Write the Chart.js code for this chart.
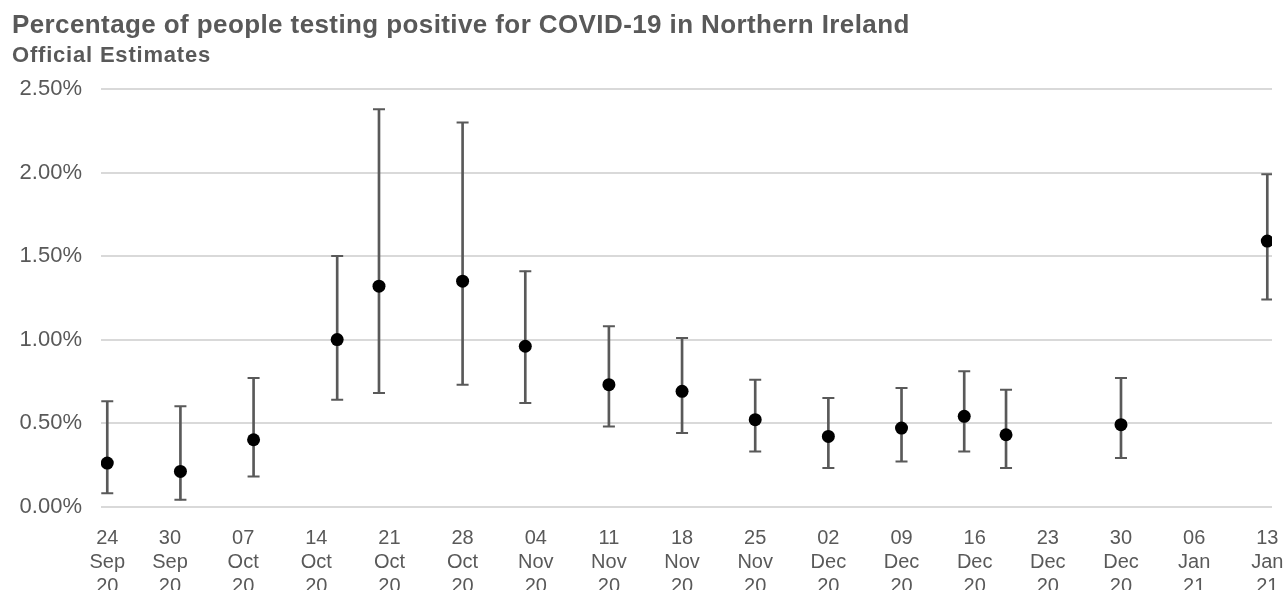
<!DOCTYPE html>
<html>
<head>
<meta charset="utf-8">
<script src="https://cdn.jsdelivr.net/npm/chart.js@4/dist/chart.umd.min.js"></script>
<style>
  html, body { margin: 0; padding: 0; background: #ffffff; }
  #wrap { width: 1288px; height: 590px; position: relative; }
</style>
</head>
<body>
<div id="wrap"><canvas id="c" width="1288" height="590"></canvas></div>
<script>
// ---- Data (days counted from 24 Sep 2020) ----
const pointDays = [0, 7, 14, 22, 26, 34, 40, 48, 55, 62, 69, 76, 82, 86, 97, 111];
const central   = [0.26, 0.21, 0.40, 1.00, 1.32, 1.35, 0.96, 0.73, 0.69, 0.52, 0.42, 0.47, 0.54, 0.43, 0.49, 1.59];
const lower     = [0.08, 0.04, 0.18, 0.64, 0.68, 0.73, 0.62, 0.48, 0.44, 0.33, 0.23, 0.27, 0.33, 0.23, 0.29, 1.24];
const upper     = [0.63, 0.60, 0.77, 1.50, 2.38, 2.30, 1.41, 1.08, 1.01, 0.76, 0.65, 0.71, 0.81, 0.70, 0.77, 1.99];

const tickDays   = [0, 6, 13, 20, 27, 34, 41, 48, 55, 62, 69, 76, 83, 90, 97, 104, 111];
const tickLabels = [
  ['24','Sep','20'], ['30','Sep','20'], ['07','Oct','20'], ['14','Oct','20'],
  ['21','Oct','20'], ['28','Oct','20'], ['04','Nov','20'], ['11','Nov','20'],
  ['18','Nov','20'], ['25','Nov','20'], ['02','Dec','20'], ['09','Dec','20'],
  ['16','Dec','20'], ['23','Dec','20'], ['30','Dec','20'], ['06','Jan','21'],
  ['13','Jan','21']
];
const yTicks = [0, 0.5, 1.0, 1.5, 2.0, 2.5];

const titleText = 'Percentage of people testing positive for COVID-19 in Northern Ireland';
const subtitleText = 'Official Estimates';

// ---- Build datasets ----
const FONT = "'Liberation Sans', Arial, sans-serif";
const GREY = '#595959';

const barData = pointDays.map((d, i) => ({ x: d, y: [lower[i], upper[i]] }));
const capData = pointDays.map((d, i) => ({ x: d, y: lower[i] }))
  .concat(pointDays.map((d, i) => ({ x: d, y: upper[i] })));
const pointData = pointDays.map((d, i) => ({ x: d, y: central[i] }));

// Slight letter spacing for the title blocks (as in the original rendering)
const letterSpacingPlugin = {
  id: 'titleLetterSpacing',
  afterLayout(chart) {
    const spacing = {};
    spacing[titleText] = '0.4px';
    spacing[subtitleText] = '0.8px';
    chart.boxes.forEach(box => {
      if (box && box.options && spacing[box.options.text] && !box.__wrapped) {
        const orig = box.draw;
        const ls = spacing[box.options.text];
        box.draw = function (...args) {
          const ctx = this.ctx || chart.ctx;
          ctx.save();
          ctx.letterSpacing = ls;
          orig.apply(this, args);
          ctx.restore();
        };
        box.__wrapped = true;
      }
    });
  }
};

new Chart(document.getElementById('c'), {
  type: 'scatter',
  plugins: [letterSpacingPlugin],
  data: {
    datasets: [
      {
        type: 'scatter',
        label: 'Estimate',
        data: pointData,
        backgroundColor: '#000000',
        borderColor: '#000000',
        borderWidth: 0,
        pointRadius: 6.5,
        order: 0
      },
      {
        type: 'scatter',
        label: 'caps',
        data: capData,
        pointStyle: 'line',
        pointRadius: 6,
        borderColor: GREY,
        borderWidth: 2,
        order: 1
      },
      {
        type: 'bar',
        label: 'interval',
        data: barData,
        backgroundColor: GREY,
        borderWidth: 0,
        barThickness: 2,
        grouped: false,
        order: 2
      }
    ]
  },
  options: {
    responsive: false,
    animation: false,
    events: [],
    layout: { padding: { left: 12, right: 16, top: 0, bottom: 0 } },
    plugins: {
      legend: { display: false },
      tooltip: { enabled: false },
      title: {
        display: true,
        text: titleText,
        align: 'start',
        color: GREY,
        font: { family: FONT, size: 26, weight: 'bold' },
        padding: { top: 10, bottom: 2 }
      },
      subtitle: {
        display: true,
        text: subtitleText,
        align: 'start',
        color: GREY,
        font: { family: FONT, size: 22, weight: 'bold' },
        padding: { top: 0, bottom: 19.6 }
      }
    },
    scales: {
      x: {
        type: 'linear',
        offset: false,
        min: -0.6,
        max: 111.45,
        grid: { display: false },
        border: { display: false },
        afterBuildTicks: (scale) => { scale.ticks = tickDays.map(v => ({ value: v })); },
        afterFit: (scale) => { scale.height = 83.5; scale.paddingRight = 0; },
        ticks: {
          autoSkip: false,
          maxRotation: 0,
          minRotation: 0,
          padding: 12,
          color: GREY,
          font: { family: FONT, size: 20, lineHeight: 1.19 },
          callback: (value, index) => tickLabels[index]
        }
      },
      y: {
        type: 'linear',
        min: 0,
        max: 2.5,
        afterBuildTicks: (scale) => { scale.ticks = yTicks.map(v => ({ value: v })); },
        afterFit: (scale) => { scale.width = 89; },
        grid: { color: '#d9d9d9', lineWidth: 2, drawTicks: false },
        border: { display: false },
        ticks: {
          padding: 19,
          color: GREY,
          font: { family: FONT, size: 22 },
          callback: (value) => value.toFixed(2) + '%'
        }
      }
    }
  }
});
</script>
</body>
</html>
